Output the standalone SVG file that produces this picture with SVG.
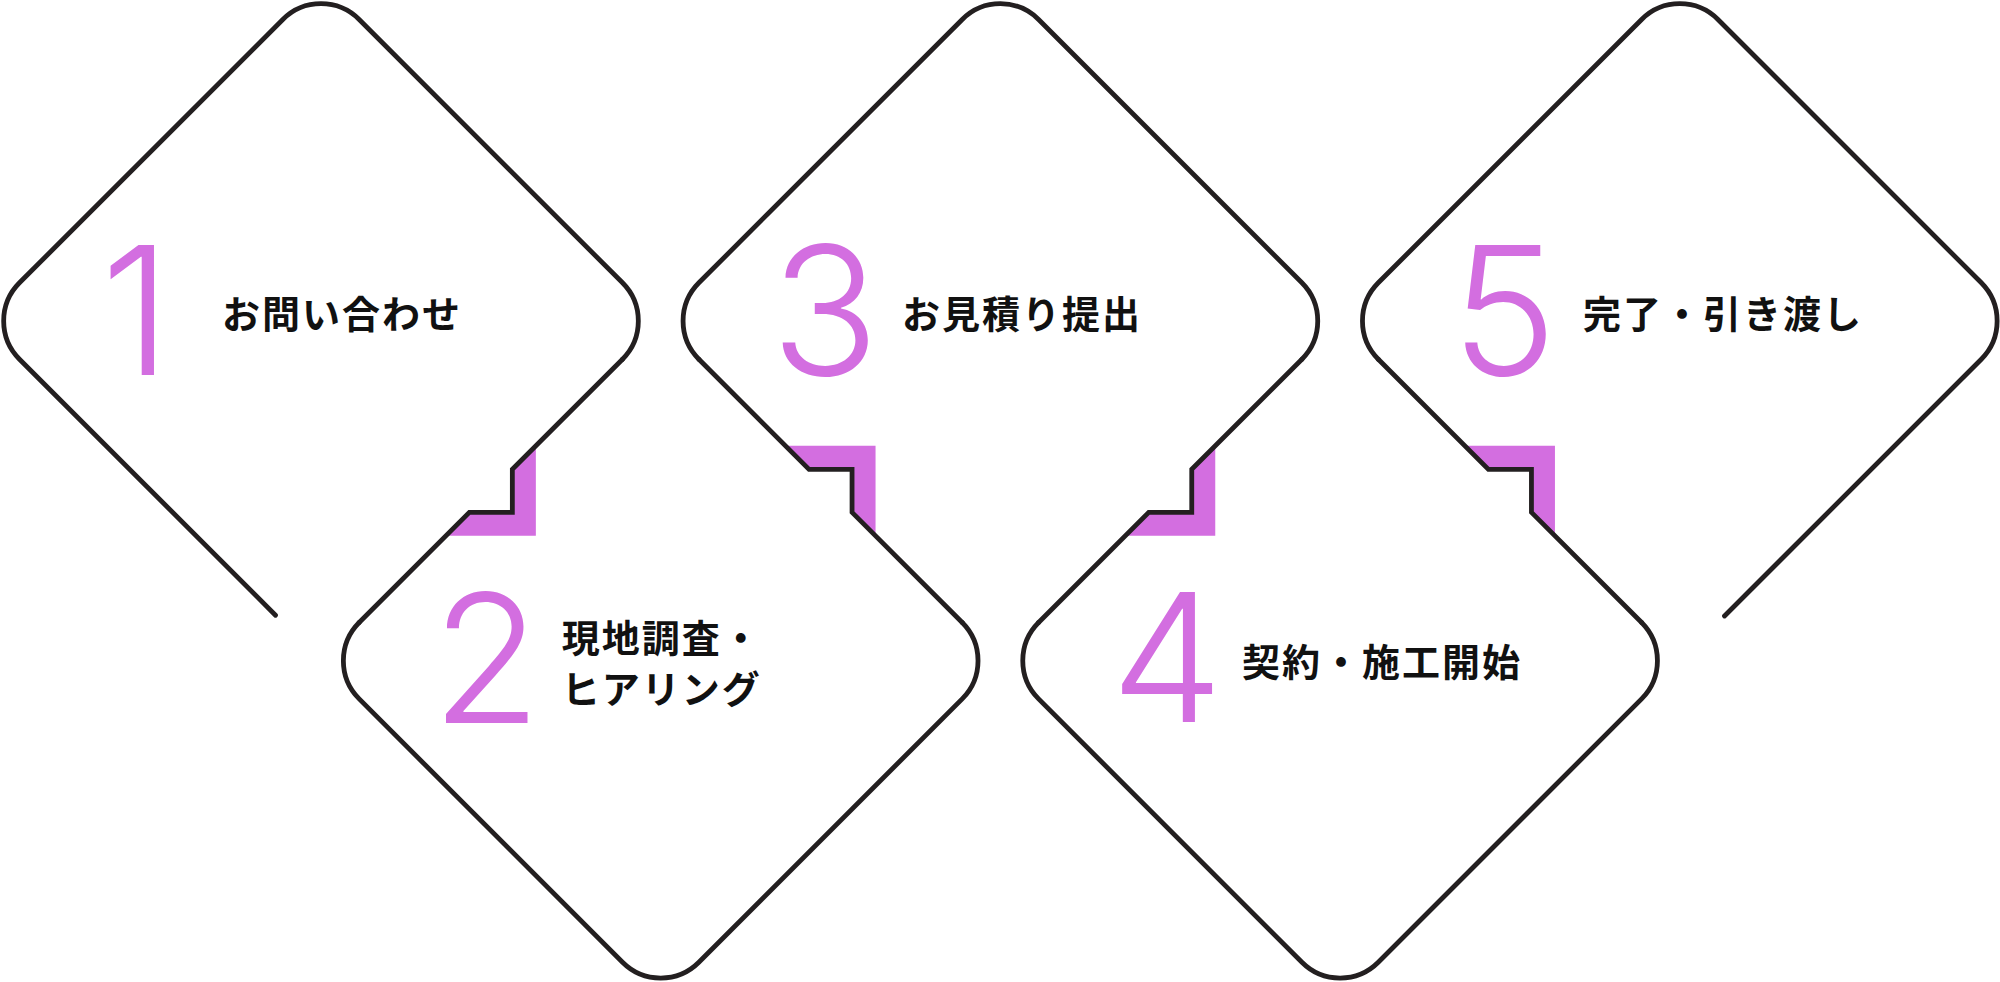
<svg xmlns="http://www.w3.org/2000/svg" width="2000" height="982" viewBox="0 0 2000 982">
<style>
.edge{fill:none;stroke:#231f20;stroke-width:4.8;stroke-linecap:round;stroke-linejoin:miter}
.shadow{fill:#d36ee0}
.num{font-family:Inter,"Liberation Sans",sans-serif;font-weight:350;font-size:179px;fill:#d36ee0;text-anchor:middle}
.label{font-family:"Noto Sans CJK JP","Noto Sans",sans-serif;font-weight:700;font-size:38px;letter-spacing:2px;fill:#111}
</style>
<rect width="2000" height="982" fill="#ffffff"/>
<g id="connectors">
  <polygon class="shadow" points="535.85,445.85 535.85,535.85 445.85,535.85 469.35,512.35 512.35,512.35 512.35,469.35"/>
  <polygon class="shadow" points="785.55,445.85 875.55,445.85 875.55,535.85 852.05,512.35 852.05,469.35 809.05,469.35"/>
  <polygon class="shadow" points="1215.25,445.85 1215.25,535.85 1125.25,535.85 1148.75,512.35 1191.75,512.35 1191.75,469.35"/>
  <polygon class="shadow" points="1464.95,445.85 1554.95,445.85 1554.95,535.85 1531.45,512.35 1531.45,469.35 1488.45,469.35"/>
  <path class="edge" d="M622.52,359.18 L512.35,469.35 V512.35 H469.35 L359.18,622.52"/>
  <path class="edge" d="M962.22,622.52 L852.05,512.35 V469.35 H809.05 L698.88,359.18"/>
  <path class="edge" d="M1301.92,359.18 L1191.75,469.35 V512.35 H1148.75 L1038.58,622.52"/>
  <path class="edge" d="M1641.62,622.52 L1531.45,512.35 V469.35 H1488.45 L1378.28,359.18"/>
</g>
<g id="node1">
  <path class="edge" d="M275.5,615.2 L19.48,359.18 A54,54 0 0 1 19.48,282.82 L282.82,19.48 A54,54 0 0 1 359.18,19.48 L622.52,282.82 A54,54 0 0 1 622.52,359.18"/>
  <text class="num" x="136" y="374.5">1</text>
  <text class="label" x="222" y="327.5">お問い合わせ</text>
</g>
<g id="node2">
  <path class="edge" d="M359.18,622.52 A54,54 0 0 0 359.18,698.88 L622.52,962.22 A54,54 0 0 0 698.88,962.22 L962.22,698.88 A54,54 0 0 0 962.22,622.52"/>
  <text class="num" x="486.5" y="723.3">2</text>
  <text class="label" x="561.7" y="652">現地調査・</text>
  <text class="label" x="561.7" y="702.5">ヒアリング</text>
</g>
<g id="node3">
  <path class="edge" d="M698.88,359.18 A54,54 0 0 1 698.88,282.82 L962.22,19.48 A54,54 0 0 1 1038.58,19.48 L1301.92,282.82 A54,54 0 0 1 1301.92,359.18"/>
  <text class="num" x="825" y="374.5">3</text>
  <text class="label" x="902" y="327.5">お見積り提出</text>
</g>
<g id="node4">
  <path class="edge" d="M1038.58,622.52 A54,54 0 0 0 1038.58,698.88 L1301.92,962.22 A54,54 0 0 0 1378.28,962.22 L1641.62,698.88 A54,54 0 0 0 1641.62,622.52"/>
  <text class="num" x="1167" y="722">4</text>
  <text class="label" x="1242" y="676">契約・施工開始</text>
</g>
<g id="node5">
  <path class="edge" d="M1378.28,359.18 A54,54 0 0 1 1378.28,282.82 L1641.62,19.48 A54,54 0 0 1 1717.98,19.48 L1981.32,282.82 A54,54 0 0 1 1981.32,359.18 L1724.5,616"/>
  <text class="num" x="1504" y="374.5">5</text>
  <text class="label" x="1583" y="327.5">完了・引き渡し</text>
</g>
</svg>
